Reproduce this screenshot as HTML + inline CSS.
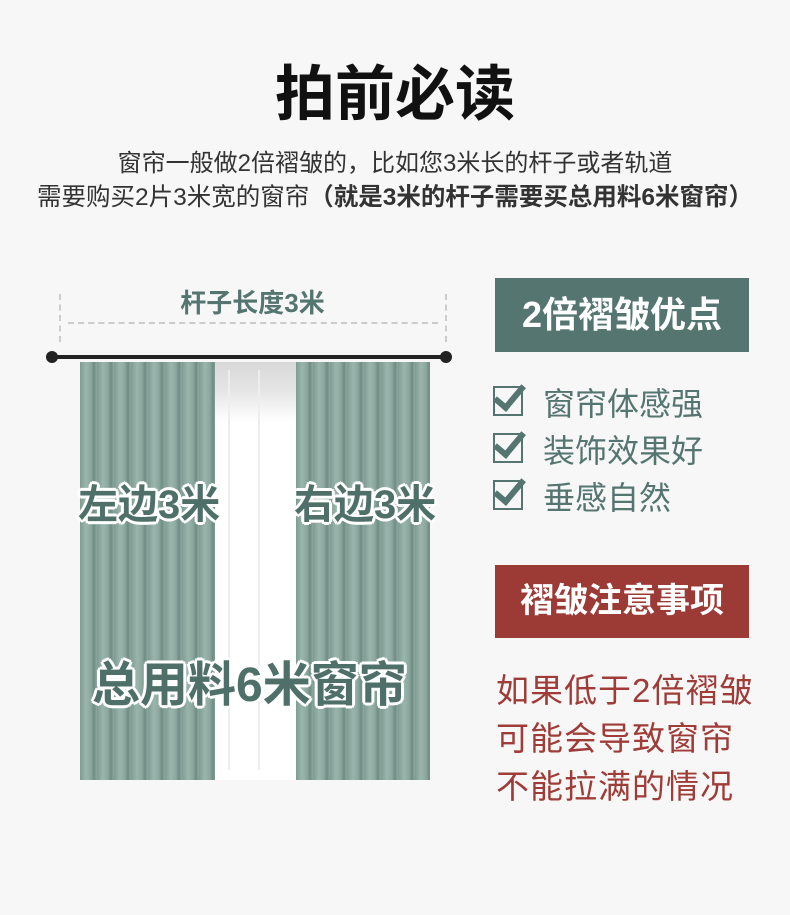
<!DOCTYPE html>
<html><head><meta charset="utf-8"><style>
body{margin:0;background:#f7f7f7;font-family:"Liberation Sans","Noto Sans CJK SC",sans-serif;}
.wrap{position:relative;width:790px;height:915px;overflow:hidden;background:#f7f7f7}
.a{position:absolute;white-space:nowrap}
.cur{position:absolute;top:362px;height:418px;background:repeating-linear-gradient(90deg,#7f9c93 0px,#9ab5ac 6px,#8aa79e 11px,#6f8c83 14px,#8ea9a0 17px)}
.lbl{position:absolute;white-space:nowrap;font-weight:bold;color:#4f6f69;text-shadow:0 0 3px #fff,0 0 3px #fff,2px 2px 0 #fff,-2px -2px 0 #fff,2px -2px 0 #fff,-2px 2px 0 #fff,3px 0 0 #fff,-3px 0 0 #fff,0 3px 0 #fff,0 -3px 0 #fff}
.chk{position:absolute;left:493px;width:30px;height:30px;border:2px solid #557570;box-sizing:border-box}
.chk:after{content:"";position:absolute;left:6px;top:-9px;width:11px;height:25px;border-right:6px solid #557570;border-bottom:6px solid #557570;transform:rotate(40deg)}
.it{position:absolute;left:543px;font-size:32px;color:#557570}
.rt{position:absolute;left:496px;font-size:33px;color:#a03c38;letter-spacing:1px}
</style></head><body><div class="wrap">
<div class="a" style="left:0;width:790px;text-align:center;top:46px;font-size:60px;font-weight:bold;color:#111">拍前必读</div>
<div class="a" style="left:0;width:790px;text-align:center;top:143px;font-size:24px;color:#333">窗帘一般做2倍褶皱的，比如您3米长的杆子或者轨道</div>
<div class="a" style="left:0;width:790px;text-align:center;top:178px;font-size:24.5px;color:#333">需要购买2片3米宽的窗帘<b>（就是3米的杆子需要买总用料6米窗帘）</b></div>

<div class="a" style="left:59px;top:294px;height:48px;border-left:2px dashed #ccc"></div>
<div class="a" style="left:445px;top:294px;height:48px;border-left:2px dashed #ccc"></div>
<div class="a" style="left:68px;top:322px;width:370px;border-top:2px dashed #ccc"></div>
<div class="a" style="left:0;width:505px;text-align:center;top:283px;font-size:26px;font-weight:bold;color:#557570">杆子长度3米</div>

<div class="a" style="left:210px;top:362px;width:90px;height:418px;background:linear-gradient(180deg,#d8d8d8 0,#e6e6e6 30px,#fff 60px,#fff 100%)"></div>
<div class="a" style="left:228px;top:370px;width:2px;height:400px;background:#eee"></div>
<div class="a" style="left:258px;top:370px;width:2px;height:400px;background:#eee"></div>
<div class="cur" style="left:80px;width:135px"></div>
<div class="cur" style="left:296px;width:134px"></div>
<div class="a" style="left:50px;top:355px;width:396px;height:4px;background:#222"></div>
<div class="a" style="left:46px;top:351px;width:12px;height:12px;border-radius:50%;background:#222"></div>
<div class="a" style="left:440px;top:351px;width:12px;height:12px;border-radius:50%;background:#222"></div>

<div class="lbl" style="left:78px;top:472px;font-size:40px">左边3米</div>
<div class="lbl" style="left:294px;top:472px;font-size:40px">右边3米</div>
<div class="lbl" style="left:92px;top:645px;font-size:48px">总用料6米窗帘</div>

<div class="a" style="left:495px;top:278px;width:254px;height:74px;background:#557570;color:#fff;font-size:36px;font-weight:bold;text-align:center;line-height:74px">2倍褶皱优点</div>
<div class="chk" style="top:386px"></div><div class="it" style="top:379px">窗帘体感强</div>
<div class="chk" style="top:433px"></div><div class="it" style="top:426px">装饰效果好</div>
<div class="chk" style="top:480px"></div><div class="it" style="top:473px">垂感自然</div>

<div class="a" style="left:495px;top:565px;width:254px;height:73px;background:#9c3a36;color:#fff;font-size:34px;font-weight:bold;text-align:center;line-height:73px">褶皱注意事项</div>
<div class="rt" style="top:664px">如果低于2倍褶皱</div>
<div class="rt" style="top:712px">可能会导致窗帘</div>
<div class="rt" style="top:760px">不能拉满的情况</div>
</div></body></html>
